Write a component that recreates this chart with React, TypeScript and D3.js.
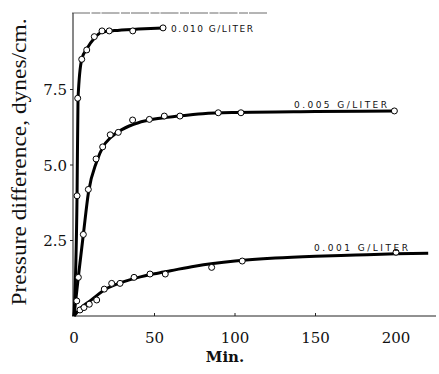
import React, { useEffect, useRef } from "react";
import * as d3 from "d3";

interface Pt {
  t: number;
  v: number;
}

// measured points (open circles)
const pts010: Pt[] = [
  { t: 1.9, v: 3.98 },
  { t: 2.3, v: 7.21 },
  { t: 4.8, v: 8.5 },
  { t: 7.9, v: 8.81 },
  { t: 12.6, v: 9.25 },
  { t: 17.4, v: 9.44 },
  { t: 21.9, v: 9.44 },
  { t: 36.5, v: 9.44 },
  { t: 55.3, v: 9.54 },
];

const pts005: Pt[] = [
  { t: 1.7, v: 0.5 },
  { t: 2.7, v: 1.28 },
  { t: 5.8, v: 2.7 },
  { t: 8.9, v: 4.19 },
  { t: 13.7, v: 5.2 },
  { t: 17.8, v: 5.6 },
  { t: 22.5, v: 6.0 },
  { t: 27.5, v: 6.08 },
  { t: 36.4, v: 6.49 },
  { t: 46.8, v: 6.51 },
  { t: 56.1, v: 6.62 },
  { t: 65.8, v: 6.62 },
  { t: 89.6, v: 6.73 },
  { t: 103.7, v: 6.73 },
  { t: 199, v: 6.79 },
];

const pts001: Pt[] = [
  { t: 3.7, v: 0.2 },
  { t: 6.2, v: 0.28 },
  { t: 9.5, v: 0.39 },
  { t: 14.1, v: 0.53 },
  { t: 18.8, v: 0.89 },
  { t: 23.4, v: 1.08 },
  { t: 28.6, v: 1.08 },
  { t: 37.3, v: 1.28 },
  { t: 47.2, v: 1.39 },
  { t: 56.7, v: 1.39 },
  { t: 85.5, v: 1.61 },
  { t: 104.5, v: 1.82 },
  { t: 200, v: 2.11 },
];

// smooth drawn curves
const curve010: Pt[] = [
  { t: 0, v: 0 },
  { t: 1.9, v: 4.0 },
  { t: 2.5, v: 7.2 },
  { t: 4.8, v: 8.5 },
  { t: 8, v: 8.85 },
  { t: 12.6, v: 9.2 },
  { t: 17.4, v: 9.4 },
  { t: 25, v: 9.45 },
  { t: 40, v: 9.5 },
  { t: 55.3, v: 9.54 },
];

const curve005: Pt[] = [
  { t: 0, v: 0 },
  { t: 2.7, v: 1.3 },
  { t: 5.8, v: 2.7 },
  { t: 9, v: 4.1 },
  { t: 14, v: 5.1 },
  { t: 18, v: 5.6 },
  { t: 23, v: 5.92 },
  { t: 30, v: 6.18 },
  { t: 40, v: 6.4 },
  { t: 50, v: 6.52 },
  { t: 65, v: 6.62 },
  { t: 80, v: 6.7 },
  { t: 100, v: 6.74 },
  { t: 150, v: 6.77 },
  { t: 199, v: 6.79 },
];

const curve001: Pt[] = [
  { t: 0, v: 0 },
  { t: 5, v: 0.3 },
  { t: 10, v: 0.5 },
  { t: 20, v: 0.9 },
  { t: 30, v: 1.12 },
  { t: 40, v: 1.28 },
  { t: 50, v: 1.4 },
  { t: 60, v: 1.5 },
  { t: 75, v: 1.65 },
  { t: 100, v: 1.82 },
  { t: 125, v: 1.92 },
  { t: 150, v: 1.98 },
  { t: 175, v: 2.02 },
  { t: 200, v: 2.06 },
  { t: 220, v: 2.08 },
];

const xTicks = [0, 50, 100, 150, 200];
const yTicks = [2.5, 5.0, 7.5];

const App: React.FC = () => {
  const svgRef = useRef<SVGSVGElement | null>(null);

  useEffect(() => {
    const width = 439;
    const height = 374;
    const svg = d3.select(svgRef.current);
    svg.selectAll("*").remove();
    svg.attr("width", width).attr("height", height);

    const x = d3.scaleLinear().domain([0, 200]).range([74, 396]);
    const y = d3.scaleLinear().domain([0, 10]).range([316, 14]);

    // frame (left, top, bottom)
    svg
      .append("line")
      .attr("x1", 73)
      .attr("x2", 73)
      .attr("y1", y(10) - 1)
      .attr("y2", y(0))
      .attr("stroke", "#111")
      .attr("stroke-width", 1);
    svg
      .append("line")
      .attr("x1", 72)
      .attr("x2", 268)
      .attr("y1", y(10) - 1)
      .attr("y2", y(10) - 1)
      .attr("stroke", "#444")
      .attr("stroke-width", 0.8)
      .attr("stroke-dasharray", "18 1.5 9 1");
    svg
      .append("line")
      .attr("x1", 72)
      .attr("x2", 436)
      .attr("y1", y(0))
      .attr("y2", y(0))
      .attr("stroke", "#222")
      .attr("stroke-width", 1);

    // ticks
    svg
      .selectAll(".xt")
      .data(xTicks.slice(1, 4))
      .enter()
      .append("line")
      .attr("x1", (d) => x(d))
      .attr("x2", (d) => x(d))
      .attr("y1", y(0))
      .attr("y2", y(0) - 3)
      .attr("stroke", "#222");
    svg
      .selectAll(".yt")
      .data(yTicks)
      .enter()
      .append("line")
      .attr("x1", 70)
      .attr("x2", 73)
      .attr("y1", (d) => y(d))
      .attr("y2", (d) => y(d))
      .attr("stroke", "#222");

    const serif = "'DejaVu Serif', 'Liberation Serif', serif";

    svg
      .selectAll(".xl")
      .data(xTicks)
      .enter()
      .append("text")
      .attr("x", (d) => x(d))
      .attr("y", 343)
      .attr("text-anchor", "middle")
      .style("font-family", serif)
      .style("font-size", "15px")
      .style("fill", "#111")
      .text((d) => String(d));

    svg
      .selectAll(".yl")
      .data(yTicks)
      .enter()
      .append("text")
      .attr("x", 67)
      .attr("y", (d) => y(d) + 5.5)
      .attr("text-anchor", "end")
      .style("font-family", serif)
      .style("font-size", "15px")
      .style("fill", "#111")
      .text((d) => d.toFixed(1));

    svg
      .append("text")
      .attr("x", 225)
      .attr("y", 362)
      .attr("text-anchor", "middle")
      .style("font-family", serif)
      .style("font-size", "15px")
      .style("font-weight", "bold")
      .style("fill", "#111")
      .text("Min.");

    svg
      .append("text")
      .attr("transform", "translate(26, 162) rotate(-90)")
      .attr("text-anchor", "middle")
      .attr("textLength", 287)
      .attr("lengthAdjust", "spacingAndGlyphs")
      .style("font-family", "'Liberation Serif', serif")
      .style("font-size", "20px")
      .style("fill", "#111")
      .text("Pressure difference, dynes/cm.");

    const line = d3
      .line<Pt>()
      .x((d) => x(d.t))
      .y((d) => y(d.v))
      .curve(d3.curveMonotoneX);

    const series = [
      { curve: curve001, pts: pts001 },
      { curve: curve005, pts: pts005 },
      { curve: curve010, pts: pts010 },
    ];

    series.forEach((s) => {
      svg
        .append("path")
        .datum(s.curve)
        .attr("fill", "none")
        .attr("stroke", "#000")
        .attr("stroke-width", 3)
        .attr("stroke-linejoin", "round")
        .attr("d", line);
    });
    series.forEach((s) => {
      svg
        .append("g")
        .selectAll("circle")
        .data(s.pts)
        .enter()
        .append("circle")
        .attr("cx", (d) => x(d.t))
        .attr("cy", (d) => y(d.v))
        .attr("r", 3)
        .attr("fill", "#fff")
        .attr("stroke", "#000")
        .attr("stroke-width", 1);
    });

    const labels = [
      { text: "0.010 G/LITER", x: 171, y: 32, w: 82 },
      { text: "0.005 G/LITER", x: 294, y: 108, w: 93 },
      { text: "0.001 G/LITER", x: 314, y: 251, w: 94 },
    ];
    svg
      .selectAll(".lab")
      .data(labels)
      .enter()
      .append("text")
      .attr("x", (d) => d.x)
      .attr("y", (d) => d.y)
      .attr("textLength", (d) => d.w)
      .attr("lengthAdjust", "spacing")
      .style("font-family", "'DejaVu Sans', sans-serif")
      .style("font-size", "9px")
      .style("fill", "#111")
      .text((d) => d.text);
  }, []);

  return (
    <div style={{ position: "absolute", left: 0, top: 0 }}>
      <svg ref={svgRef}></svg>
    </div>
  );
};

export default App;
